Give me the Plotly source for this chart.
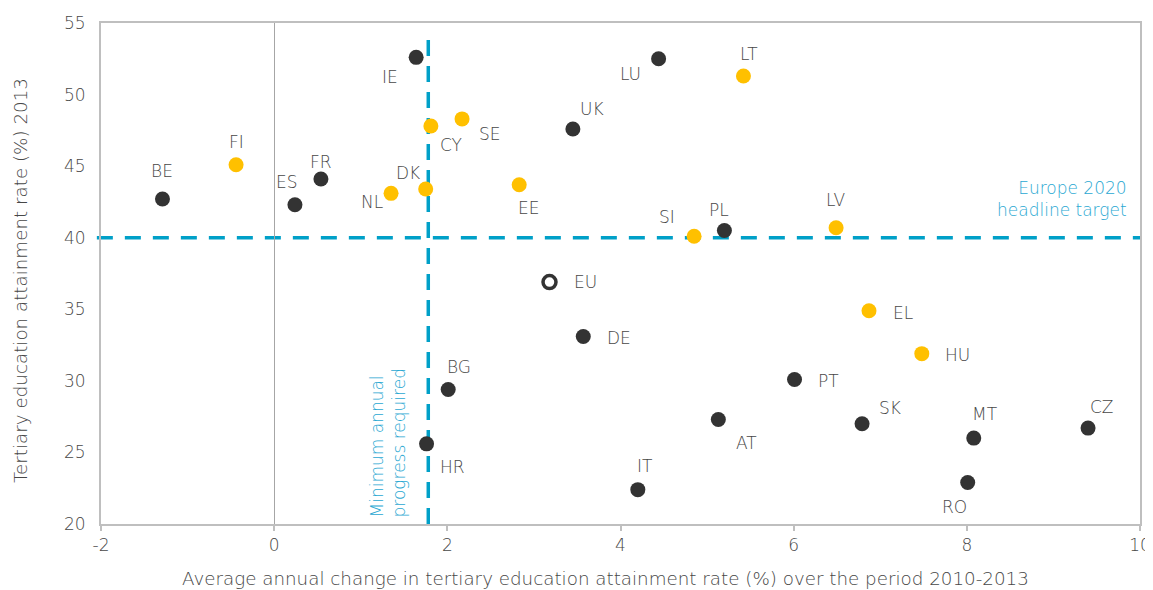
import plotly.graph_objects as go

# ---- data ----
countries = ["BE", "FI", "ES", "FR", "NL", "DK", "IE", "CY", "SE", "EE", "UK", "LU", "LT", "SI",
             "PL", "LV", "EU", "DE", "BG", "HR", "IT", "AT", "PT", "SK", "MT", "CZ", "RO", "EL", "HU"]
change = [-1.29, -0.44, 0.24, 0.54, 1.35, 1.75, 1.64, 1.81, 2.17, 2.83, 3.45, 4.44, 5.42, 4.85,
          5.20, 6.49, 3.18, 3.57, 2.01, 1.76, 4.20, 5.13, 6.01, 6.79, 8.08, 9.40, 8.01, 6.87, 7.48]
rate2013 = [42.7, 45.1, 42.3, 44.1, 43.1, 43.4, 52.6, 47.8, 48.3, 43.7, 47.6, 52.5, 51.3, 40.1,
            40.5, 40.7, 36.9, 33.1, 29.4, 25.6, 22.4, 27.3, 30.1, 27.0, 26.0, 26.7, 22.9, 34.9, 31.9]
group = ["other", "yellow", "other", "other", "yellow", "yellow", "other", "yellow", "yellow",
         "yellow", "other", "other", "yellow", "yellow", "other", "yellow", "eu", "other", "other",
         "other", "other", "other", "other", "other", "other", "other", "other", "yellow", "yellow"]
target_rate = 40
min_progress = 1.78
x_ticks = [-2, 0, 2, 4, 6, 8, 10]
x_ticktext = ["-2", "0", "2", "4", "6", "8", "10"]
y_ticks = [20, 25, 30, 35, 40, 45, 50, 55]
x_title = "Average annual change in tertiary education attainment rate (%) over the period 2010-2013"
y_title = "Tertiary education attainment rate (%) 2013"

# ---- label offsets (pixels) ----
label_offsets = {
    "BE": (0, -28), "FI": (0, -23), "ES": (-8, -23), "FR": (0, -17), "NL": (-19, 9),
    "DK": (-18, -16), "IE": (-26, 20), "CY": (20, 19), "SE": (28, 15), "EE": (9, 23),
    "UK": (19, -20), "LU": (-28, 15), "LT": (6, -22), "SI": (-27, -19), "PL": (-5, -21),
    "LV": (0, -28), "EU": (36, 0), "DE": (36, 2), "BG": (11, -22), "HR": (26, 23),
    "IT": (7, -24), "AT": (28, 23), "PT": (34, 2), "SK": (28, -16), "MT": (11, -24),
    "CZ": (14, -21), "RO": (-13, 25), "EL": (34, 2), "HU": (36, 1),
}

DARK = "#333333"
YELLOW = "#FFC000"
BLUE = "#00A0C8"
TEXT = "#474747"
NOTE = "#2AA8D2"
FONT = "DejaVu Sans"
W = 200
FS = 17
TS = 18.3

fig = go.Figure()

def add_group(g, color, size, line):
    xs = [x for x, gg in zip(change, group) if gg == g]
    ys = [y for y, gg in zip(rate2013, group) if gg == g]
    fig.add_trace(go.Scatter(x=xs, y=ys, mode="markers",
                             marker=dict(size=size, color=color, symbol="circle", line=line),
                             showlegend=False, hoverinfo="skip"))

add_group("other", DARK, 15, dict(width=0))
add_group("yellow", YELLOW, 15, dict(width=0))
add_group("eu", "white", 13, dict(width=3.5, color=DARK))

for c, x, y in zip(countries, change, rate2013):
    dx, dy = label_offsets[c]
    fig.add_annotation(x=x, y=y, text=c, showarrow=False, xshift=dx, yshift=-dy,
                       font=dict(family=FONT, size=FS, color=TEXT, weight=W))

# reference lines
fig.add_shape(type="line", xref="paper", yref="y", x0=-0.004, x1=1, y0=target_rate, y1=target_rate,
              line=dict(color=BLUE, width=3.5, dash="16px,12px"), layer="below")
fig.add_shape(type="line", xref="x", yref="y", x0=min_progress, x1=min_progress, y0=20, y1=54.5,
              line=dict(color=BLUE, width=3.5, dash="16px,10px"), layer="below")

fig.add_annotation(xref="paper", yref="paper", x=0.989, y=0.649, xanchor="right", yanchor="middle",
                   text="Europe 2020<br>headline target", align="right", showarrow=False,
                   font=dict(family=FONT, size=FS, color=NOTE, weight=W))
fig.add_annotation(xref="x", yref="y", x=min_progress, y=20.3, xshift=-40, xanchor="center",
                   yanchor="bottom", text="Minimum annual<br>progress required", align="left",
                   textangle=-90, showarrow=False,
                   font=dict(family=FONT, size=FS, color=NOTE, weight=W))

# axis titles
fig.add_annotation(xref="paper", yref="paper", x=0.486, y=-0.108, xanchor="center", yanchor="middle",
                   text=x_title, showarrow=False, font=dict(family=FONT, size=TS, color=TEXT, weight=W))
fig.add_annotation(xref="paper", yref="paper", x=-0.078, y=0.487, xanchor="center", yanchor="middle",
                   text=y_title, textangle=-90, showarrow=False,
                   font=dict(family=FONT, size=TS, color=TEXT, weight=W))

# page body has an 8px default margin -> figure sized/offset to compensate
fig.update_layout(
    width=1145, height=582,
    margin=dict(l=93, r=13, t=15, b=66, autoexpand=False),
    paper_bgcolor="white", plot_bgcolor="white",
    font=dict(family=FONT, color=TEXT, weight=W),
)
fig.update_xaxes(range=[-2, 10], tickvals=x_ticks, ticktext=x_ticktext, showgrid=False,
                 automargin=False,
                 zeroline=True, zerolinecolor="#A6A6A6", zerolinewidth=1,
                 showline=True, linecolor="#BFBFBF", linewidth=2, mirror=True,
                 ticks="outside", ticklen=5, tickcolor="#BFBFBF", tickwidth=1.5,
                 tickfont=dict(size=FS, color=TEXT, weight=W))
fig.update_yaxes(range=[20, 55], tickvals=y_ticks, showgrid=False, zeroline=False,
                 automargin=False,
                 showline=True, linecolor="#BFBFBF", linewidth=2, mirror=True,
                 ticks="", ticklabelstandoff=10, tickfont=dict(size=FS, color=TEXT, weight=W))

fig.write_html("out.html")
